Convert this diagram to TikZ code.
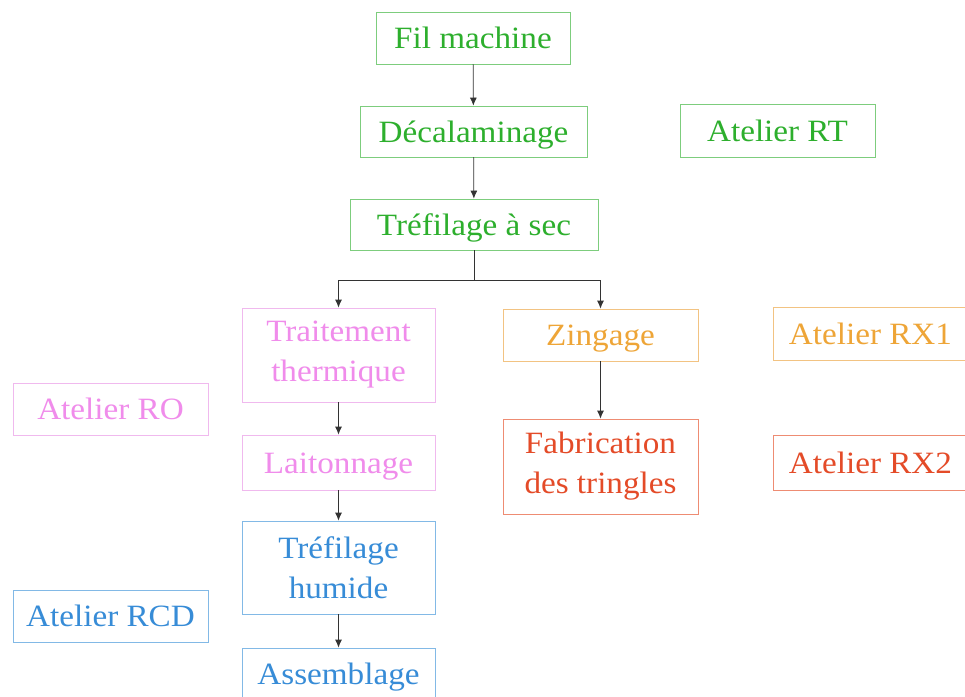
\documentclass[tikz,border=0pt]{standalone}
\usepackage{fontspec}
\setmainfont{Liberation Serif}[FakeStretch=1.07]
\usetikzlibrary{arrows.meta}
\definecolor{gtext}{RGB}{45,175,45}
\definecolor{gline}{RGB}{125,205,125}
\definecolor{ptext}{RGB}{240,140,235}
\definecolor{pline}{RGB}{240,185,238}
\definecolor{otext}{RGB}{238,165,55}
\definecolor{oline}{RGB}{242,195,130}
\definecolor{rtext}{RGB}{228,75,40}
\definecolor{rline}{RGB}{238,140,115}
\definecolor{btext}{RGB}{55,140,215}
\definecolor{bline}{RGB}{130,185,230}
\tikzset{
  box/.style={draw, rectangle, inner sep=0pt, line width=0.8pt,
    font=\fontsize{31}{40}\selectfont},
  one/.style={text height=25pt, text depth=4pt},
  two/.style={align=center},
  gbox/.style={box, draw=gline, text=gtext},
  pbox/.style={box, draw=pline, text=ptext},
  obox/.style={box, draw=oline, text=otext},
  rbox/.style={box, draw=rline, text=rtext},
  bbox/.style={box, draw=bline, text=btext},
  flow/.style={draw=black!80, line width=0.8pt, -{Latex[length=8pt,width=7pt]}},
}
\begin{document}
\begin{tikzpicture}[x=1pt,y=-1pt]
\useasboundingbox (0,0) rectangle (965,696);
\clip (0,0) rectangle (965,696);
\fill[white] (0,0) rectangle (965,696);
% green
\node[gbox, one, minimum width=194pt, minimum height=52pt] (fil) at (473,38) {Fil machine};
\node[gbox, one, minimum width=227pt, minimum height=51pt] (deca) at (473.5,131.5) {Décalaminage};
\node[gbox, one, minimum width=195pt, minimum height=53pt] (rt) at (777.5,130.5) {Atelier RT};
\node[gbox, one, minimum width=248pt, minimum height=51pt] (tref) at (474,224.5) {Tréfilage à sec};
% pink
\node[pbox, two, minimum width=193pt, minimum height=94pt] (tt) at (338.5,355) {Traitement\\thermique};
\node[pbox, one, minimum width=193pt, minimum height=55pt] (lait) at (338.5,462.5) {Laitonnage};
\node[pbox, one, minimum width=195pt, minimum height=52pt] (ro) at (110.5,409) {Atelier RO};
% orange
\node[obox, one, minimum width=195pt, minimum height=52pt] (zin) at (600.5,335) {Zingage};
\node[obox, one, minimum width=195pt, minimum height=53pt] (rx1) at (870.5,333.5) {Atelier RX1};
% red
\node[rbox, two, minimum width=195pt, minimum height=95pt] (fab) at (600.5,466.5) {Fabrication\\des tringles};
\node[rbox, one, minimum width=195pt, minimum height=55pt] (rx2) at (870.5,462.5) {Atelier RX2};
% blue
\node[bbox, two, minimum width=193pt, minimum height=93pt] (th) at (338.5,567.5) {Tréfilage\\humide};
\node[bbox, one, minimum width=195pt, minimum height=52pt] (rcd) at (110.5,616) {Atelier RCD};
\node[bbox, one, minimum width=193pt, minimum height=52pt] (ass) at (338.5,674) {Assemblage};
% connectors
\draw[flow] (fil) -- (deca);
\draw[flow] (deca) -- (tref);
\coordinate (split) at (474,280);
\draw[draw=black!80, line width=0.8pt] (tref.south) -- (split);
\draw[flow] (split) -| (tt.north);
\draw[flow] (split) -| (zin.north);
\draw[flow] (tt) -- (lait);
\draw[flow] (lait) -- (th);
\draw[flow] (th) -- (ass);
\draw[flow] (zin) -- (fab);
\end{tikzpicture}
\end{document}
